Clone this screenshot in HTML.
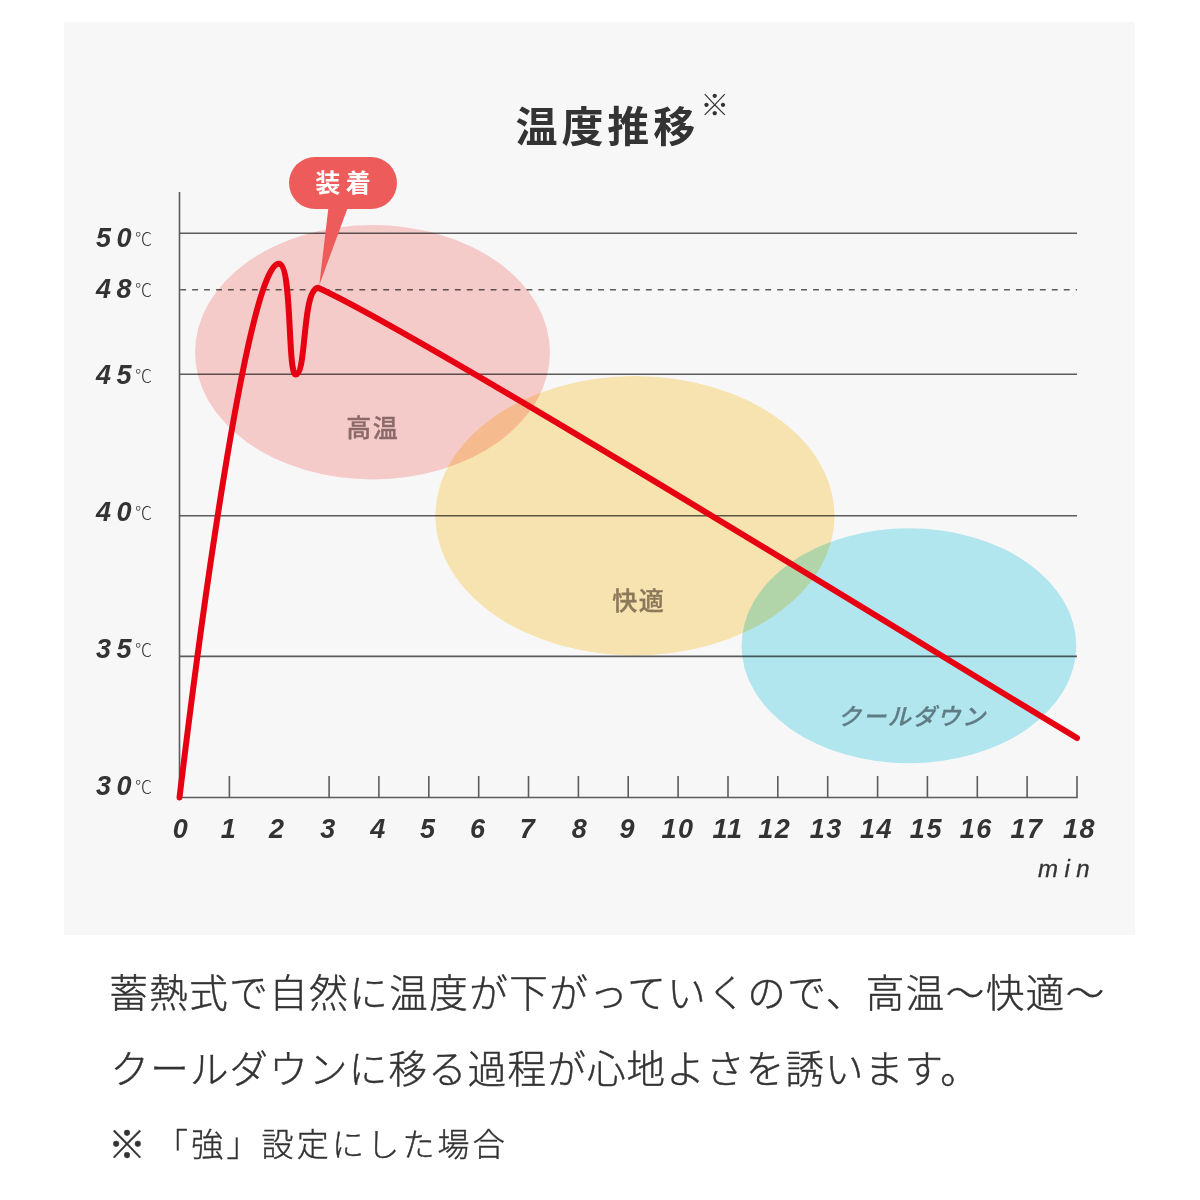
<!DOCTYPE html>
<html lang="ja"><head><meta charset="utf-8"><title>温度推移</title>
<style>
html,body{margin:0;padding:0;background:#fff;}
body{width:1200px;height:1200px;position:relative;overflow:hidden;font-family:"Liberation Sans","Noto Sans CJK JP",sans-serif;color:#333;}
svg{position:absolute;left:0;top:0;}
.abs{position:absolute;white-space:nowrap;}
.title{left:515.6px;top:98px;font-weight:700;font-size:42px;letter-spacing:3.87px;line-height:60px;color:#333;}
.yl{position:absolute;left:60px;width:92px;height:30px;line-height:30px;text-align:right;white-space:nowrap;}
.yl .num{font-style:italic;font-weight:700;font-size:27px;letter-spacing:5.5px;margin-right:-2px;color:#333;}
.yl .deg{font-family:"Liberation Sans","Noto Sans CJK JP",sans-serif;font-weight:300;font-size:17px;color:#333;position:relative;top:-2px;}
.xl{position:absolute;top:813.5px;width:60px;height:30px;line-height:30px;text-align:center;font-style:italic;font-weight:700;font-size:27px;letter-spacing:2.5px;color:#333;}
.min{left:1038px;top:853.5px;font-style:italic;font-size:24px;letter-spacing:6.5px;-webkit-text-stroke:0.3px #333;line-height:30px;color:#333;}
.zone{font-family:"Liberation Sans","Noto Sans CJK JP",sans-serif;font-weight:500;font-size:25px;letter-spacing:1.5px;text-indent:1.5px;line-height:30px;text-align:center;width:200px;}
.tag{left:289px;top:157.2px;width:108px;height:52px;line-height:52px;text-align:center;color:#fff;font-family:"Liberation Sans","Noto Sans CJK JP",sans-serif;font-weight:700;font-size:25px;letter-spacing:5.5px;text-indent:5.5px;}
.body{left:109.3px;font-family:"Liberation Sans","Noto Sans CJK JP",sans-serif;font-weight:300;-webkit-text-stroke:0.45px #333;font-size:38.5px;letter-spacing:1.5px;line-height:50px;color:#333;}
.note{left:156px;top:1123.2px;font-family:"Liberation Sans","Noto Sans CJK JP",sans-serif;font-weight:300;-webkit-text-stroke:0.4px #333;font-size:32px;letter-spacing:3.2px;line-height:44px;color:#333;}
</style></head><body>
<svg width="1200" height="1200" viewBox="0 0 1200 1200">
<rect x="64" y="22" width="1071" height="913" fill="#f7f7f7"/>
<g stroke="#5c5c5c" stroke-width="1.6" fill="none"><line x1="179.5" y1="233.3" x2="1077" y2="233.3"/><line x1="179.5" y1="374.3" x2="1077" y2="374.3"/><line x1="179.5" y1="515.8" x2="1077" y2="515.8"/><line x1="179.5" y1="656.4" x2="1077" y2="656.4"/><line x1="180.2" y1="289.7" x2="1077" y2="289.7" stroke-dasharray="5.9 6.04"/><line x1="179.5" y1="192" x2="179.5" y2="797.5"/><line x1="179.5" y1="797.5" x2="1077.7" y2="797.5"/><line x1="229.4" y1="776" x2="229.4" y2="797.5"/><line x1="329.1" y1="776" x2="329.1" y2="797.5"/><line x1="378.9" y1="776" x2="378.9" y2="797.5"/><line x1="428.8" y1="776" x2="428.8" y2="797.5"/><line x1="478.7" y1="776" x2="478.7" y2="797.5"/><line x1="528.5" y1="776" x2="528.5" y2="797.5"/><line x1="578.4" y1="776" x2="578.4" y2="797.5"/><line x1="628.2" y1="776" x2="628.2" y2="797.5"/><line x1="678.1" y1="776" x2="678.1" y2="797.5"/><line x1="728.0" y1="776" x2="728.0" y2="797.5"/><line x1="777.8" y1="776" x2="777.8" y2="797.5"/><line x1="827.7" y1="776" x2="827.7" y2="797.5"/><line x1="877.6" y1="776" x2="877.6" y2="797.5"/><line x1="927.4" y1="776" x2="927.4" y2="797.5"/><line x1="977.3" y1="776" x2="977.3" y2="797.5"/><line x1="1027.1" y1="776" x2="1027.1" y2="797.5"/><line x1="1077.0" y1="776" x2="1077.0" y2="797.5"/></g>
<g style="mix-blend-mode:multiply"><ellipse cx="372.5" cy="352.2" rx="177.5" ry="127.2" fill="#fdd2d1" style="mix-blend-mode:multiply"/><ellipse cx="634.9" cy="515.7" rx="199.5" ry="139.7" fill="#ffebb5" style="mix-blend-mode:multiply"/><ellipse cx="908.9" cy="645.8" rx="167.4" ry="117.5" fill="#b8eef7" style="mix-blend-mode:multiply"/></g>
<g fill="#ee5b5b"><rect x="289" y="157" width="108" height="52" rx="26"/><path d="M328.5 207 L348 207 L319.3 285 Z"/></g>
<path d="M179.5 797.5 C203.2 600.6 249.8 263.8 278.9 263.8 C292.6 263.8 287.3 374.6 295.8 374.6 C306.7 374.6 302 290 318 287.8 C421 333.9 973.4 676.3 1077 738" fill="none" stroke="#e60012" stroke-width="6" stroke-linecap="round" stroke-linejoin="round"/>
</svg>
<div class="abs title">温度推移<span style="position:absolute;left:184.6px;top:-22px;font-weight:300;font-size:29px;letter-spacing:0;">※</span></div>
<div class="yl" style="top:223.0px"><span class="num">50</span><span class="deg">℃</span></div>
<div class="yl" style="top:274.4px"><span class="num">48</span><span class="deg">℃</span></div>
<div class="yl" style="top:359.8px"><span class="num">45</span><span class="deg">℃</span></div>
<div class="yl" style="top:497.1px"><span class="num">40</span><span class="deg">℃</span></div>
<div class="yl" style="top:633.6px"><span class="num">35</span><span class="deg">℃</span></div>
<div class="yl" style="top:770.6px"><span class="num">30</span><span class="deg">℃</span></div>
<div class="xl" style="left:151.5px">0</div>
<div class="xl" style="left:199.4px">1</div>
<div class="xl" style="left:247.7px">2</div>
<div class="xl" style="left:299.1px">3</div>
<div class="xl" style="left:348.9px">4</div>
<div class="xl" style="left:398.8px">5</div>
<div class="xl" style="left:448.7px">6</div>
<div class="xl" style="left:498.5px">7</div>
<div class="xl" style="left:550.4px">8</div>
<div class="xl" style="left:598.2px">9</div>
<div class="xl" style="left:648.1px;letter-spacing:1.5px">10</div>
<div class="xl" style="left:698.0px;letter-spacing:1.5px">11</div>
<div class="xl" style="left:744.8px;letter-spacing:1.5px">12</div>
<div class="xl" style="left:796.2px;letter-spacing:1.5px">13</div>
<div class="xl" style="left:846.6px;letter-spacing:1.5px">14</div>
<div class="xl" style="left:896.4px;letter-spacing:1.5px">15</div>
<div class="xl" style="left:946.3px;letter-spacing:1.5px">16</div>
<div class="xl" style="left:997.1px;letter-spacing:1.5px">17</div>
<div class="xl" style="left:1049.5px;letter-spacing:1.5px">18</div>
<div class="abs min">min</div>
<div class="abs zone" style="left:272px;top:412.6px;color:#8b6a6a;-webkit-text-stroke:0.35px #8b6a6a">高温</div>
<div class="abs zone" style="left:538px;top:585.7px;color:#8c785a;-webkit-text-stroke:0.35px #8c785a">快適</div>
<div class="abs zone" style="left:811.5px;top:702px;color:#5f7c84;font-style:italic;font-size:23.5px;letter-spacing:1.3px;-webkit-text-stroke:0.3px #5f7c84">クールダウン</div>
<div class="abs tag">装着</div>
<div class="abs body" style="top:969.3px">蓄熱式で自然に温度が下がっていくので、高温〜快適〜</div>
<div class="abs body" style="top:1045px;left:110.5px;letter-spacing:1.2px">クールダウンに移る過程が心地よさを誘います。</div>
<div class="abs note" style="left:108px;font-size:38px;letter-spacing:0">※</div><div class="abs note">「強」設定にした場合</div>
</body></html>
